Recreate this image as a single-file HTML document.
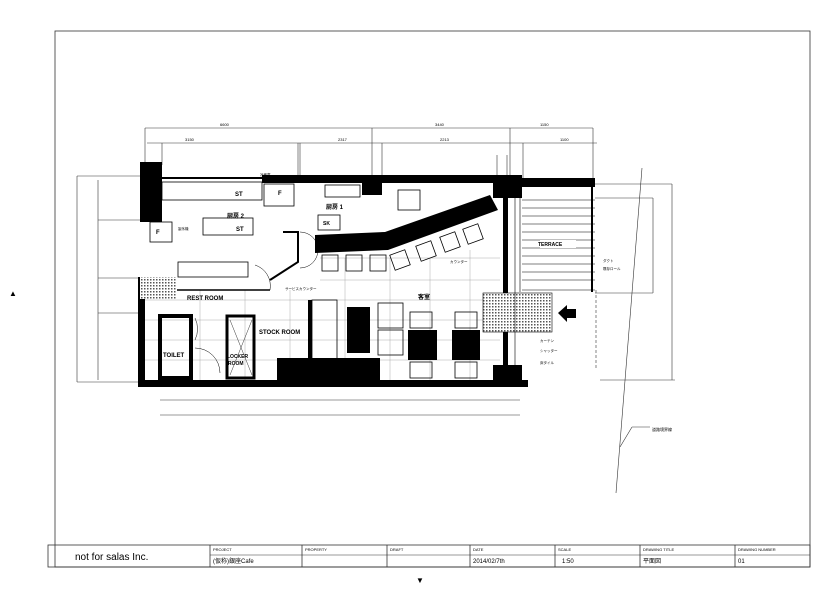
<!DOCTYPE html>
<html><head><meta charset="utf-8"><style>
html,body{margin:0;padding:0;background:#fff;width:840px;height:595px;overflow:hidden}
svg{display:block}
text{font-family:"Liberation Sans","Noto Sans CJK JP",sans-serif;fill:#000}
</style></head><body>
<svg width="840" height="595" viewBox="0 0 840 595" xmlns="http://www.w3.org/2000/svg">
<defs>
<pattern id="h" width="3" height="3" patternUnits="userSpaceOnUse"><rect width="3" height="3" fill="#fff"/><rect width="1.5" height="1.5" fill="#555"/></pattern>
</defs>
<!-- frame -->
<g fill="none" stroke="#333" stroke-width="0.8">
<rect x="55" y="31" width="755" height="536"/>
<rect x="48" y="545" width="762" height="22"/>
<line x1="210" y1="555" x2="810" y2="555" stroke-width="0.5"/>
<line x1="210" y1="545" x2="210" y2="567"/><line x1="302" y1="545" x2="302" y2="567"/>
<line x1="387" y1="545" x2="387" y2="567"/><line x1="470" y1="545" x2="470" y2="567"/>
<line x1="555" y1="545" x2="555" y2="567"/><line x1="640" y1="545" x2="640" y2="567"/>
<line x1="735" y1="545" x2="735" y2="567"/>
</g>
<text x="75" y="560" font-size="10">not for salas Inc.</text>
<g font-size="4"><text x="213" y="551">PROJECT</text><text x="305" y="551">PROPERTY</text><text x="390" y="551">DRAFT</text><text x="473" y="551">DATE</text><text x="558" y="551">SCALE</text><text x="643" y="551">DRAWING TITLE</text><text x="738" y="551">DRAWING NUMBER</text></g>
<g font-size="6"><text x="213" y="563">(仮称)銀座Cafe</text><text x="473" y="563">2014/02/7th</text><text x="562" y="563">1:50</text><text x="643" y="563">平面図</text><text x="738" y="563">01</text></g>
<text x="9" y="296" font-size="8">▲</text><text x="416" y="583" font-size="8">▼</text>

<!-- dimension lines -->
<g stroke="#333" stroke-width="0.6" fill="none">
<line x1="145" y1="128" x2="593" y2="128"/><line x1="147" y1="143" x2="597" y2="143"/>
<line x1="145" y1="128" x2="145" y2="165"/><line x1="372" y1="128" x2="372" y2="180"/><line x1="510" y1="128" x2="510" y2="180"/><line x1="593" y1="128" x2="593" y2="180"/>
<line x1="162" y1="143" x2="162" y2="165"/><line x1="298" y1="143" x2="298" y2="178"/><line x1="300" y1="143" x2="300" y2="178"/><line x1="382" y1="143" x2="382" y2="178"/><line x1="523" y1="143" x2="523" y2="178"/><line x1="497" y1="155" x2="497" y2="178"/><line x1="507" y1="155" x2="507" y2="178"/>
<line x1="77" y1="176" x2="77" y2="382"/><line x1="98" y1="180" x2="98" y2="380"/>
<line x1="77" y1="176" x2="140" y2="176"/><line x1="77" y1="382" x2="140" y2="382"/>
<line x1="98" y1="220" x2="140" y2="220"/><line x1="98" y1="278" x2="140" y2="278"/><line x1="98" y1="313" x2="140" y2="313"/>
<line x1="160" y1="400" x2="520" y2="400"/><line x1="160" y1="415" x2="520" y2="415"/>
<line x1="595" y1="184" x2="672" y2="184"/><line x1="595" y1="198" x2="653" y2="198"/>
<line x1="653" y1="198" x2="653" y2="293"/><line x1="672" y1="184" x2="672" y2="380"/>
<line x1="595" y1="293" x2="653" y2="293"/><line x1="600" y1="380" x2="675" y2="380"/>
<line x1="642" y1="168" x2="616" y2="493"/>
<line x1="596" y1="290" x2="596" y2="368" stroke-dasharray="3,2"/>
<line x1="632" y1="427" x2="650" y2="427"/><line x1="632" y1="427" x2="620" y2="447"/>
</g>
<g font-size="4"><text x="220" y="126">6600</text><text x="435" y="126">3440</text><text x="540" y="126">1150</text>
<text x="185" y="141">3150</text><text x="338" y="141">2317</text><text x="440" y="141">2213</text><text x="560" y="141">1100</text>
<text x="652" y="431">道路境界線</text></g>

<!-- grid floor lines -->
<g stroke="#999" stroke-width="0.4">
<line x1="145" y1="300" x2="500" y2="300"/><line x1="145" y1="320" x2="500" y2="320"/><line x1="145" y1="340" x2="500" y2="340"/><line x1="145" y1="360" x2="500" y2="360"/>
<line x1="320" y1="258" x2="500" y2="258"/><line x1="320" y1="280" x2="500" y2="280"/>
<line x1="200" y1="290" x2="200" y2="383"/><line x1="245" y1="290" x2="245" y2="383"/><line x1="290" y1="290" x2="290" y2="383"/><line x1="345" y1="258" x2="345" y2="383"/><line x1="390" y1="258" x2="390" y2="383"/><line x1="430" y1="258" x2="430" y2="383"/><line x1="470" y1="250" x2="470" y2="383"/>
</g>

<!-- walls -->
<g fill="#000">
<rect x="140" y="162" width="22" height="60"/>
<rect x="262" y="175" width="260" height="8"/>
<rect x="162" y="177" width="100" height="2"/>
<rect x="520" y="178" width="75" height="9"/>
<rect x="493" y="180" width="29" height="18"/>
<rect x="138" y="277" width="7" height="108"/>
<rect x="138" y="380" width="390" height="7"/>
<rect x="277" y="358" width="103" height="25"/>
<rect x="493" y="365" width="29" height="20"/>
<rect x="503" y="198" width="5" height="170"/>
<polygon points="315,235 385,232 490,195 498,210 388,250 315,253"/>
<rect x="347" y="307" width="23" height="46"/>
<rect x="408" y="330" width="29" height="30"/>
<rect x="452" y="330" width="28" height="30"/>
<rect x="362" y="183" width="20" height="12"/>
<rect x="308" y="300" width="4" height="62"/>
</g>
<!-- toilet & rooms -->
<g fill="none" stroke="#000">
<rect x="160" y="316" width="31" height="62" stroke-width="4"/>
<rect x="227" y="316" width="27" height="62" stroke-width="3"/>
<rect x="162" y="182" width="100" height="18" stroke-width="0.8"/>
<rect x="264" y="184" width="30" height="22" stroke-width="0.8"/>
<rect x="150" y="222" width="22" height="20" stroke-width="0.8"/>
<rect x="203" y="218" width="50" height="17" stroke-width="0.8"/>
<rect x="178" y="262" width="70" height="15" stroke-width="0.8"/>
<rect x="318" y="215" width="22" height="15" stroke-width="0.8"/>
<rect x="325" y="185" width="35" height="12" stroke-width="0.8"/>
<rect x="398" y="190" width="22" height="20" stroke-width="0.8"/>
<rect x="312" y="300" width="25" height="60" stroke-width="0.8"/>
<rect x="378" y="303" width="25" height="25" stroke-width="0.8"/>
<rect x="378" y="330" width="25" height="25" stroke-width="0.8"/>
<rect x="410" y="312" width="22" height="16" stroke-width="0.8"/>
<rect x="410" y="362" width="22" height="16" stroke-width="0.8"/>
<rect x="455" y="312" width="22" height="16" stroke-width="0.8"/>
<rect x="455" y="362" width="22" height="16" stroke-width="0.8"/>
<rect x="322" y="255" width="16" height="16" stroke-width="0.8"/>
<rect x="346" y="255" width="16" height="16" stroke-width="0.8"/>
<rect x="370" y="255" width="16" height="16" stroke-width="0.8"/>
<rect x="392" y="252" width="16" height="16" stroke-width="0.8" transform="rotate(-20 400 260)"/>
<rect x="418" y="243" width="16" height="16" stroke-width="0.8" transform="rotate(-20 426 251)"/>
<rect x="442" y="234" width="16" height="16" stroke-width="0.8" transform="rotate(-20 450 242)"/>
<rect x="465" y="226" width="16" height="16" stroke-width="0.8" transform="rotate(-20 473 234)"/>
<path d="M283,232 L298,232 L298,262 L270,280" stroke-width="2"/>
<path d="M300,232 A18,18 0 0 1 300,268" stroke-width="0.5"/>
<path d="M255,265 A22,22 0 0 1 270,290" stroke-width="0.5"/>
<path d="M195,318 A25,25 0 0 1 195,340" stroke-width="0.5"/>
<path d="M195,348 A25,25 0 0 1 220,373" stroke-width="0.5"/>
<line x1="145" y1="290" x2="270" y2="290" stroke-width="1.5"/>
<line x1="230" y1="320" x2="252" y2="375" stroke-width="0.4"/><line x1="252" y1="320" x2="230" y2="375" stroke-width="0.4"/>
</g>
<!-- hatched -->
<rect x="140" y="277" width="37" height="22" fill="url(#h)"/>
<rect x="483" y="293" width="69" height="39" fill="url(#h)" stroke="#000" stroke-width="0.6"/>
<!-- terrace -->
<g stroke="#000" stroke-width="0.6">
<line x1="522" y1="200" x2="595" y2="200"/><line x1="522" y1="208" x2="595" y2="208"/><line x1="522" y1="216" x2="595" y2="216"/><line x1="522" y1="224" x2="595" y2="224"/><line x1="522" y1="232" x2="595" y2="232"/><line x1="522" y1="240" x2="595" y2="240"/><line x1="522" y1="248" x2="595" y2="248"/><line x1="522" y1="256" x2="595" y2="256"/><line x1="522" y1="264" x2="595" y2="264"/><line x1="522" y1="272" x2="595" y2="272"/><line x1="522" y1="280" x2="595" y2="280"/><line x1="522" y1="290" x2="595" y2="290"/>
<line x1="520" y1="187" x2="520" y2="292"/><line x1="592" y1="187" x2="592" y2="292" stroke-width="2"/>
<line x1="515" y1="190" x2="515" y2="365"/>
</g>
<rect x="540" y="240" width="36" height="8" fill="#fff"/>
<polygon points="558,313 567,305 567,309 576,309 576,318 567,318 567,322" fill="#000"/>
<!-- labels -->
<g font-size="6" font-weight="bold">
<text x="227" y="218">厨房 2</text><text x="326" y="209">厨房 1</text><text x="418" y="299">客室</text>
<text x="187" y="300">REST ROOM</text><text x="259" y="334">STOCK ROOM</text>
<text x="163" y="357">TOILET</text><text x="227" y="358" font-size="5">LOCKER</text><text x="228" y="365" font-size="5">ROOM</text>
<text x="538" y="246" font-size="5">TERRACE</text>
<text x="278" y="195">F</text><text x="156" y="234">F</text><text x="235" y="196">ST</text><text x="236" y="231">ST</text><text x="323" y="225" font-size="5">SK</text>
</g>
<g font-size="3.5">
<text x="260" y="176">冷蔵庫</text><text x="178" y="230">製氷機</text><text x="285" y="290">サービスカウンター</text>
<text x="450" y="263">カウンター</text><text x="603" y="262">ダクト</text><text x="603" y="270">既存ロール</text>
<text x="540" y="342">カーテン</text><text x="540" y="352">シャッター</text><text x="540" y="364">床タイル</text>
</g>
</svg>
</body></html>
